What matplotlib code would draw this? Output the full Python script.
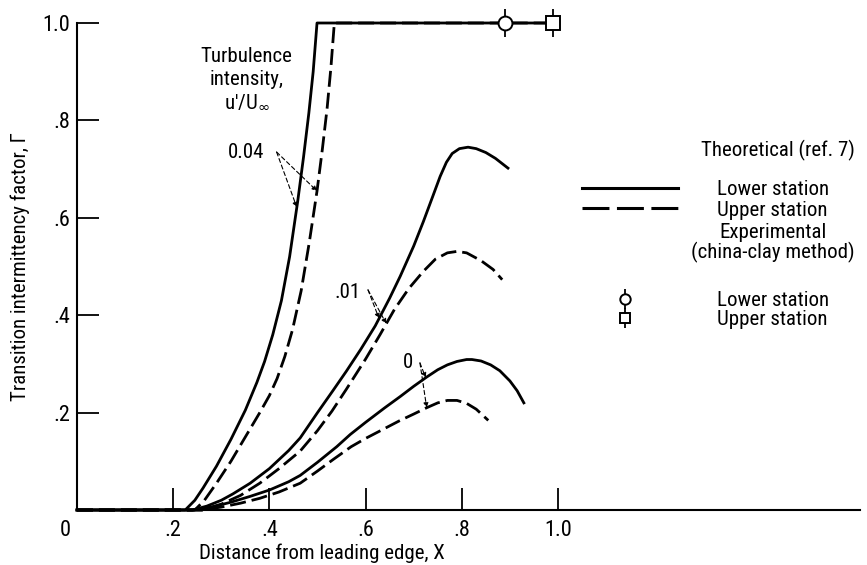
import numpy as np
import matplotlib
matplotlib.use("Agg")
import matplotlib.pyplot as plt
from matplotlib import font_manager as fm
from matplotlib.lines import Line2D
from matplotlib.legend_handler import HandlerTuple
from matplotlib.transforms import ScaledTranslation

# ---------------- data ----------------
x_004_lower = [0.0, 0.20, 0.225, 0.245, 0.262, 0.29, 0.32, 0.35, 0.374, 0.39, 0.407, 0.425, 0.442,
               0.459, 0.471, 0.482, 0.491, 0.499, 0.99]
y_004_lower = [0.0, 0.0, 0.0, 0.02, 0.045, 0.09, 0.145, 0.205, 0.262, 0.305, 0.36, 0.43, 0.52,
               0.635, 0.725, 0.815, 0.9, 1.0, 1.0]

x_004_upper = [0.0, 0.22, 0.245, 0.265, 0.29, 0.32, 0.35, 0.38, 0.40, 0.416, 0.432, 0.448, 0.466,
               0.483, 0.499, 0.51, 0.52, 0.528, 0.535, 0.99]
y_004_upper = [0.0, 0.0, 0.0, 0.02, 0.055, 0.10, 0.15, 0.20, 0.235, 0.27, 0.315, 0.37, 0.45,
               0.55, 0.655, 0.74, 0.825, 0.91, 1.0, 1.0]

x_001_lower = [0.0, 0.22, 0.24, 0.27, 0.30, 0.324, 0.36, 0.40, 0.44, 0.464, 0.50, 0.532, 0.56, 0.59,
               0.62, 0.65, 0.672, 0.70, 0.72, 0.74, 0.755, 0.768, 0.78, 0.795, 0.813, 0.83, 0.85,
               0.87, 0.896]
y_001_lower = [0.0, 0.0, 0.0, 0.008, 0.02, 0.033, 0.055, 0.085, 0.122, 0.148, 0.20, 0.245, 0.285, 0.33,
               0.378, 0.435, 0.48, 0.542, 0.592, 0.645, 0.685, 0.714, 0.732, 0.742, 0.745, 0.742, 0.734,
               0.722, 0.702]

x_001_upper = [0.0, 0.24, 0.26, 0.30, 0.34, 0.38, 0.42, 0.464, 0.50, 0.53, 0.56, 0.60, 0.63, 0.66,
               0.69, 0.72, 0.745, 0.77, 0.79, 0.81, 0.84, 0.865, 0.884]
y_001_upper = [0.0, 0.0, 0.0, 0.012, 0.03, 0.055, 0.085, 0.121, 0.163, 0.203, 0.248, 0.31, 0.36, 0.412,
               0.455, 0.49, 0.515, 0.528, 0.531, 0.528, 0.512, 0.494, 0.473]

x_0_lower = [0.0, 0.22, 0.24, 0.28, 0.32, 0.36, 0.40, 0.44, 0.464, 0.50, 0.54, 0.568, 0.60, 0.64,
             0.672, 0.70, 0.727, 0.75, 0.77, 0.79, 0.81, 0.821, 0.84, 0.86, 0.879, 0.90, 0.915, 0.929]
y_0_lower = [0.0, 0.0, 0.0, 0.006, 0.016, 0.028, 0.041, 0.058, 0.071, 0.098, 0.13, 0.155, 0.18, 0.21,
             0.233, 0.254, 0.273, 0.288, 0.298, 0.305, 0.309, 0.309, 0.306, 0.298, 0.286, 0.265, 0.245, 0.22]

x_0_upper = [0.0, 0.24, 0.26, 0.30, 0.34, 0.38, 0.42, 0.464, 0.50, 0.533, 0.57, 0.60, 0.637, 0.67,
             0.70, 0.727, 0.75, 0.77, 0.79, 0.81, 0.83, 0.855]
y_0_upper = [0.0, 0.0, 0.0, 0.006, 0.014, 0.024, 0.037, 0.055, 0.08, 0.104, 0.13, 0.147, 0.166, 0.183,
             0.197, 0.21, 0.22, 0.225, 0.225, 0.219, 0.207, 0.184]

exp_x_lower = [0.89]
exp_y_lower = [1.0]
exp_x_upper = [0.99]
exp_y_upper = [1.0]

x_ticks = [0.0, 0.2, 0.4, 0.6, 0.8, 1.0]
x_ticklabels = ["0", ".2", ".4", ".6", ".8", "1.0"]
y_ticks = [0.2, 0.4, 0.6, 0.8, 1.0]
y_ticklabels = [".2", ".4", ".6", ".8", "1.0"]

# ---------------- font ----------------
fonts = fm.fontManager.ttflist
names = {f.name for f in fonts}
stretch = "normal"
family = "DejaVu Sans"
for cand in ["Liberation Sans Narrow", "Roboto Condensed", "Open Sans Condensed"]:
    if cand in names:
        family = cand
        break
else:
    if any(f.name == "DejaVu Sans" and str(f.stretch) == "condensed" for f in fonts):
        stretch = "condensed"
plt.rcParams["font.family"] = [family, "DejaVu Sans"]
plt.rcParams["font.stretch"] = stretch
plt.rcParams["lines.scale_dashes"] = False
FS = 15
TFS = 16

W, H = 867, 565
fig = plt.figure(figsize=(W / 100, H / 100), dpi=100)
ax = fig.add_axes([77 / W, 1 - 510 / H, (860 - 77) / W, (510 - 23) / H])
ax.set_xlim(0, (860 - 77) / 481)
ax.set_ylim(0, 1.0)

LW = 2.0
dash = (0, (11.5, 4.3))
ax.plot(x_004_lower, y_004_lower, color="black", lw=LW, clip_on=False, zorder=3)
ax.plot(x_001_lower, y_001_lower, color="black", lw=LW, clip_on=False, zorder=3)
ax.plot(x_0_lower, y_0_lower, color="black", lw=LW, clip_on=False, zorder=3)
ax.plot(x_004_upper, y_004_upper, color="black", lw=LW, ls=dash, clip_on=False, zorder=2)
ax.plot(x_001_upper, y_001_upper, color="black", lw=LW, ls=dash, clip_on=False, zorder=2)
ax.plot(x_0_upper, y_0_upper, color="black", lw=LW, ls=dash, clip_on=False, zorder=2)

# experimental points (flagged symbols)
bar_lo, = ax.plot(exp_x_lower, exp_y_lower, ls="none", marker="|", ms=20, mew=1.3, color="black", clip_on=False, zorder=4)
pt_lo, = ax.plot(exp_x_lower, exp_y_lower, ls="none", marker="o", ms=10, mfc="white", mec="black", mew=1.4, clip_on=False, zorder=5)
bar_up, = ax.plot(exp_x_upper, exp_y_upper, ls="none", marker="|", ms=20, mew=1.3, color="black", clip_on=False, zorder=4)
pt_up, = ax.plot(exp_x_upper, exp_y_upper, ls="none", marker="s", ms=10, mfc="white", mec="black", mew=1.4, clip_on=False, zorder=5)

# axes styling
for s in ["top", "right"]:
    ax.spines[s].set_visible(False)
for s in ["left", "bottom"]:
    ax.spines[s].set_linewidth(1.5)
ax.set_xticks(x_ticks)
ax.set_xticklabels(x_ticklabels)
ax.set_yticks(y_ticks)
ax.set_yticklabels(y_ticklabels)
ax.tick_params(axis="both", direction="in", length=16, width=1.3, labelsize=TFS)
ax.tick_params(axis="y", pad=5)
ax.tick_params(axis="x", pad=7)
lab0 = ax.get_xticklabels()[0]
lab0.set_transform(lab0.get_transform() + ScaledTranslation(-12 / 100, 0, fig.dpi_scale_trans))

ax.set_xlabel("Distance from leading edge, X", fontsize=FS)
ax.xaxis.set_label_coords((322 - 77) / (860 - 77), -0.068)
ax.set_ylabel("Transition intermittency factor, \u0393", fontsize=FS)
ax.yaxis.set_label_coords(-0.060, 0.5)

# curve labels
ax.text(0.353, 0.885, "Turbulence\nintensity,\nu'/U${}_{\\infty}$", ha="center", va="center",
        fontsize=FS, linespacing=1.25)

def leader(text, txy, hook, targets):
    ax.text(txy[0], txy[1], text, ha="center", va="center", fontsize=FS)
    for (xs, ys, xt) in targets:
        yt = float(np.interp(xt, xs, ys))
        ax.annotate("", xy=(xt, yt), xytext=hook,
                    arrowprops=dict(arrowstyle="-|>", color="black", lw=0.8, ls=(0, (3, 2)),
                                    shrinkA=0, shrinkB=0, mutation_scale=7))

leader("0.04", (0.351, 0.735), (0.415, 0.735),
       [(x_004_lower, y_004_lower, 0.457), (x_004_upper, y_004_upper, 0.499)])
leader(".01", (0.563, 0.447), (0.605, 0.452),
       [(x_001_lower, y_001_lower, 0.628), (x_001_upper, y_001_upper, 0.643)])
leader("0", (0.688, 0.302), (0.713, 0.302),
       [(x_0_lower, y_0_lower, 0.725), (x_0_upper, y_0_upper, 0.727)])

# legend
fig.text(778 / W, 1 - 150 / H, "Theoretical (ref. 7)", ha="center", va="center", fontsize=FS)
fig.text(773 / W, 1 - 232 / H, "Experimental", ha="center", va="center", fontsize=FS)
fig.text(773 / W, 1 - 252 / H, "(china-clay method)", ha="center", va="center", fontsize=FS)

em = FS * 100 / 72
h_solid = Line2D([], [], color="black", lw=2.2)
h_dash = Line2D([], [], color="black", lw=2.2, ls=(0, (19.4, 5.4)))
fig.legend([h_solid, h_dash], ["Lower station", "Upper station"],
           loc="center left", bbox_to_anchor=(582 / W, 1 - 200 / H),
           frameon=False, fontsize=FS, handlelength=96 / em, handletextpad=(717 - 678) / em,
           labelspacing=0.05, borderpad=0, borderaxespad=0)
fig.legend([(bar_lo, pt_lo), (bar_up, pt_up)], ["Lower station", "Upper station"],
           handler_map={tuple: HandlerTuple(ndivide=1, pad=0)},
           loc="center left", bbox_to_anchor=(577 / W, 1 - 310 / H),
           frameon=False, fontsize=FS, handlelength=96 / em, handletextpad=(717 - 673) / em,
           labelspacing=0.0, borderpad=0, borderaxespad=0, markerscale=0.75)

fig.savefig("out.png", dpi=100)
